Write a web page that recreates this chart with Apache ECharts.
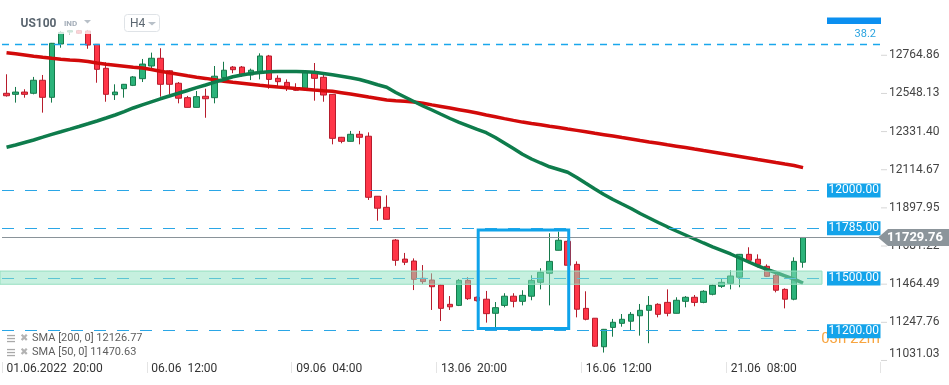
<!DOCTYPE html>
<html>
<head>
<meta charset="utf-8">
<script src="https://cdn.jsdelivr.net/npm/echarts@6/dist/echarts.min.js"></script>
<style>
html,body{margin:0;padding:0;background:#fff;}
#chart{width:949px;height:385px;}
</style>
</head>
<body>
<div id="chart"></div>
<script>
// ---------------- DATA ----------------
const xTickLabels = ['01.06.2022  20:00', '06.06  12:00', '09.06  04:00', '13.06  20:00', '16.06  12:00', '21.06  08:00'];
const candlesPerTick = 16;
const totalSlots = 97;

const opens = [12549,12543,12556,12549,12623,12526,12829,12897,12905,12903,
12827,12691,12541,12575,12594,12632,12704,12748,12677,12606,
12524,12469,12532,12524,12638,12698,12698,12653,12672,12761,
12634,12611,12581,12577,12668,12640,12543,12299,12276,12316,
12305,11964,11901,11715,11607,11596,11498,11488,11460,11350,
11344,11486,11390,11379,11299,11344,11396,11367,11396,11475,
11526,11657,11708,11577,11327,11271,11109,11219,11242,11254,
11285,11316,11350,11361,11299,11367,11390,11361,11407,11452,
11469,11504,11634,11606,11566,11515,11435,11379,11589];
const closes = [12535,12556,12543,12623,12526,12833,12895,12905,12890,12823,
12685,12543,12556,12600,12642,12715,12748,12600,12600,12521,
12469,12530,12518,12646,12680,12683,12653,12680,12761,12628,
12615,12581,12566,12666,12634,12539,12293,12276,12316,12299,
11958,11896,11833,11600,11589,11492,11479,11450,11327,11336,
11486,11382,11371,11297,11331,11396,11367,11401,11486,11532,
11594,11714,11572,11322,11265,11112,11208,11248,11265,11293,
11316,11344,11293,11299,11373,11390,11361,11424,11458,11475,
11511,11634,11600,11577,11509,11430,11379,11594,11729.76];
const highs = [12657,12585,12572,12642,12653,12835,12903,12909,12909,12909,
12829,12725,12600,12602,12647,12744,12780,12805,12681,12613,
12534,12562,12575,12704,12728,12704,12704,12689,12776,12767,
12651,12628,12606,12681,12721,12668,12545,12301,12335,12335,
12327,11965,11969,11721,11642,11611,11573,11526,11465,11397,
11494,11504,11394,11426,11363,11413,11413,11430,11515,11555,
11754,11763,11715,11594,11424,11272,11210,11267,11295,11306,
11352,11397,11356,11435,11390,11397,11403,11430,11463,11494,
11543,11636,11674,11634,11577,11522,11441,11617,11732];
const lows = [12530,12496,12524,12543,12439,12496,12808,12884,12886,12802,
12609,12501,12511,12524,12590,12613,12681,12530,12543,12492,
12468,12468,12410,12492,12636,12663,12643,12624,12628,12575,
12586,12562,12562,12573,12507,12501,12259,12265,12275,12259,
11943,11825,11832,11569,11573,11431,11465,11318,11255,11318,
11340,11375,11366,11246,11215,11333,11333,11344,11373,11435,
11344,11656,11568,11276,11259,11108,11076,11166,11223,11200,
11172,11129,11276,11282,11298,11333,11339,11356,11401,11443,
11435,11447,11583,11560,11505,11418,11327,11373,11558];

const sma200 = [12779.6,12773.4,12766.6,12759.8,12753.5,12747.8,12742.7,12738.2,12734.8,12729.6,
12721.1,12714.3,12708.6,12702.9,12697.2,12692.1,12684.2,12674.5,12665.4,12656.9,
12648.4,12640.4,12633.6,12625.7,12617.7,12611.5,12605.8,12600.1,12594.4,12589.3,
12584.2,12580.2,12576.2,12572.3,12567.7,12563.7,12560.3,12552.4,12544.4,12536.5,
12527.9,12519.4,12510.9,12506.9,12503.5,12499.0,12492.7,12483.1,12474.0,12464.9,
12455.8,12446.7,12436.5,12425.7,12415.5,12405.2,12395.0,12385.3,12377.4,12370.0,
12362.0,12354.1,12346.1,12338.2,12330.2,12321.7,12313.8,12305.8,12297.3,12289.3,
12280.8,12272.8,12264.9,12256.4,12248.4,12240.5,12231.9,12223.4,12215.5,12206.9,
12198.4,12189.9,12181.4,12172.3,12163.8,12155.2,12146.7,12138.8,12126.77];
const sma50 = [12242.2,12255.2,12269.4,12283.6,12299.5,12315.5,12330.2,12345.0,12360.3,12375.7,
12391.6,12408.6,12425.7,12445.0,12465.5,12483.6,12500.7,12517.7,12533.6,12549.0,
12564.9,12580.8,12596.1,12612.0,12627.4,12642.7,12652.9,12661.5,12667.1,12671.1,
12672.8,12673.4,12673.4,12671.7,12668.3,12661.5,12654.1,12646.1,12637.0,12627.4,
12613.2,12597.3,12583.1,12553.5,12527.9,12502.4,12476.8,12454.1,12429.7,12405.8,
12384.2,12364.3,12344.4,12325.1,12297.8,12266.6,12235.4,12203.0,12175.7,12153.0,
12131.4,12116.0,12100.1,12070.6,12037.6,12005.3,11974.0,11945.6,11920.0,11894.5,
11866.1,11840.5,11814.9,11790.5,11766.6,11743.9,11721.2,11698.5,11676.9,11657.0,
11636.0,11613.2,11590.5,11568.9,11547.9,11530.8,11512.1,11492.8,11470.63];

const yTickLabels = ['11031.03','11247.76','11464.49','11681.22','11897.95','12114.67','12331.40','12548.13','12764.86'];
const yMin = 11022.3;
const yMax = 13079.0;

const fibLevel = 12829;
const fibLabel = '38.2';
const levels = [12000, 11785, 11500, 11200];
const levelLabels = ['12000.00', '11785.00', '11500.00', '11200.00'];
const bandRange = [11464, 11539];
const lastPrice = 11729.76;
const lastPriceLabel = '11729.76';
const boxRange = {fromIdx: 52, toIdx: 62, top: 11772, bottom: 11212};
const legendLines = ['SMA [200, 0] 12126.77', 'SMA [50, 0] 11470.63'];
const timerText = '03h 22m';

// ---------------- BUILD ----------------
const categories = [];
for (let i = 0; i < totalSlots; i++) {
  const k = i / candlesPerTick;
  categories.push(Number.isInteger(k) && k < xTickLabels.length ? xTickLabels[k] : '');
}
const candleData = opens.map((o, i) => [o, closes[i], lows[i], highs[i]]);
const showCat = (idx, val) => val !== '';

const FONT = 'Roboto, "Noto Sans", sans-serif';
const BLUE = '#13a3ea';

const chart = echarts.init(document.getElementById('chart'), null, {renderer: 'canvas'});
const option = {
  animation: false,
  backgroundColor: '#ffffff',
  grid: {left: 2, right: 69, top: 0, bottom: 23},
  xAxis: {
    type: 'category',
    data: categories,
    boundaryGap: true,
    axisLine: {show: false},
    axisTick: {show: true, interval: showCat, length: 11, lineStyle: {color: '#e4e4e4'}},
    axisLabel: {show: true, interval: showCat, align: 'left', margin: 1, fontSize: 12, color: '#333', fontFamily: FONT},
    splitLine: {show: false}
  },
  yAxis: {
    type: 'value', min: yMin, max: yMax, position: 'right',
    axisLine: {show: false}, axisTick: {show: false}, axisLabel: {show: false}, splitLine: {show: false}
  },
  series: [
    {
      type: 'candlestick',
      data: candleData,
      barWidth: 6,
      z: 2,
      itemStyle: {color: '#2bb37a', color0: '#ff3648', borderColor: '#16794b', borderColor0: '#b71c2c', borderWidth: 1},
      markLine: {
        silent: true, symbol: ['none', 'none'], animation: false,
        label: {show: false},
        data: [
          {yAxis: fibLevel, lineStyle: {color: '#1aa7ec', type: [7, 6], width: 1.3}},
          ...levels.map(v => ({yAxis: v, lineStyle: {color: '#2aa6e6', type: [12, 11], width: 1.2}})),
          {yAxis: lastPrice, lineStyle: {color: '#8a9399', type: 'solid', width: 1}}
        ]
      }
    },
    {type: 'line', data: sma200, showSymbol: false, z: 3, lineStyle: {color: '#d20a0a', width: 3.5}, itemStyle: {color: '#d20a0a'}},
    {type: 'line', data: sma50, showSymbol: false, z: 3, lineStyle: {color: '#0e7c4c', width: 3.5}, itemStyle: {color: '#0e7c4c'}}
  ]
};
chart.setOption(option);

// ---------------- OVERLAYS (positions from the library scales) ----------------
const py = v => chart.convertToPixel({yAxisIndex: 0}, v);
const pxy = (i, v) => chart.convertToPixel({xAxisIndex: 0, yAxisIndex: 0}, [i, v]);
const els = [];

// y axis tick labels and tick marks
yTickLabels.forEach((t, k) => {
  const y = py(parseFloat(t));
  els.push({type: 'line', shape: {x1: 881, y1: y, x2: 887, y2: y}, style: {stroke: '#d6d6d6', lineWidth: 1}, z: 5});
  const ty = k === 0 ? y - 6 : y;
  els.push({type: 'text', x: 889, y: ty, style: {text: t, fill: '#444', font: '12px ' + FONT, verticalAlign: 'middle'}, z: 5});
});

// header veil
els.push({type: 'rect', shape: {x: 0, y: 0, width: 880, height: 34}, style: {fill: 'rgba(255,255,255,0.78)'}, z: 20, silent: true});

// support band
const bTop = py(bandRange[1]), bBot = py(bandRange[0]);
els.push({type: 'rect', shape: {x: 0, y: bTop, width: 822, height: bBot - bTop}, style: {fill: 'rgba(141,225,191,0.5)', stroke: '#95dfc0', lineWidth: 1}, z: 10, silent: true});

// annotation box
const p1 = pxy(boxRange.fromIdx, boxRange.top), p2 = pxy(boxRange.toIdx, boxRange.bottom);
els.push({type: 'rect', shape: {x: p1[0] + 1, y: p1[1], width: p2[0] - p1[0], height: p2[1] - p1[1]}, style: {fill: 'none', stroke: '#0fa3ea', lineWidth: 3}, z: 11, silent: true});

// timer text (mostly hidden behind 11200 label)
els.push({type: 'text', x: 880, y: py(levels[3]) + 9, style: {text: timerText, fill: '#f7a541', font: '15px ' + FONT, align: 'right', verticalAlign: 'middle'}, z: 25});

// level labels
levels.forEach((v, i) => {
  const y = py(v);
  els.push({type: 'rect', shape: {x: 827, y: y - 6.5, width: 53.5, height: 14}, style: {fill: BLUE}, z: 30});
  els.push({type: 'text', x: 853.7, y: y + 0.5, style: {text: levelLabels[i], fill: '#fff', font: '12px ' + FONT, align: 'center', verticalAlign: 'middle'}, z: 31});
});

// fib label + clipped top box
const fy = py(fibLevel);
els.push({type: 'text', x: 876, y: fy - 9.5, style: {text: fibLabel, fill: '#29a3e0', font: '11px ' + FONT, align: 'right', verticalAlign: 'middle'}, z: 30});
els.push({type: 'rect', shape: {x: 827, y: 17.5, width: 54, height: 6.5}, style: {fill: '#0b8ff0'}, z: 30});

// last price label
const ly = py(lastPrice);
els.push({type: 'polygon', shape: {points: [[878, ly], [888, ly - 8.5], [949, ly - 8.5], [949, ly + 8.5], [888, ly + 8.5]]}, style: {fill: '#8c959b'}, z: 40});
els.push({type: 'text', x: 915, y: ly + 0.5, style: {text: lastPriceLabel, fill: '#fff', font: 'bold 13px ' + FONT, align: 'center', verticalAlign: 'middle'}, z: 41});

// header
els.push({type: 'text', x: 20.5, y: 23.5, style: {text: 'US100', fill: '#5b6670', font: 'bold 12px ' + FONT, verticalAlign: 'middle'}, z: 50});
els.push({type: 'text', x: 64, y: 24, style: {text: 'IND', fill: '#a3adb8', font: 'bold 8px ' + FONT, verticalAlign: 'middle'}, z: 50});
els.push({type: 'polygon', shape: {points: [[84, 20], [91, 20], [87.5, 23.5]]}, style: {fill: '#b8c0c8'}, z: 50});
els.push({type: 'rect', shape: {x: 124.5, y: 14.5, width: 35, height: 17, r: 3}, style: {fill: '#fff', stroke: '#dfe3e7', lineWidth: 1}, z: 50});
els.push({type: 'text', x: 130, y: 23.5, style: {text: 'H4', fill: '#5b6670', font: '12px ' + FONT, verticalAlign: 'middle'}, z: 51});
els.push({type: 'polygon', shape: {points: [[148, 22], [156, 22], [152, 25.5]]}, style: {fill: '#b8c0c8'}, z: 51});

// legend
legendLines.forEach((t, i) => {
  const y = 338.5 + i * 14;
  [-3, 0, 3].forEach(d => els.push({type: 'rect', shape: {x: 7, y: y + d - 0.6, width: 8, height: 1.3}, style: {fill: '#a9a9a9'}, z: 50}));
  els.push({type: 'text', x: 20, y: y, style: {text: '✖', fill: '#b3b3b3', font: '10px "DejaVu Sans"', verticalAlign: 'middle'}, z: 50});
  els.push({type: 'text', x: 32, y: y, style: {text: t, fill: '#5e5e5e', font: '11px ' + FONT, verticalAlign: 'middle'}, z: 50});
});

chart.setOption({graphic: {elements: els}});
</script>
</body>
</html>
